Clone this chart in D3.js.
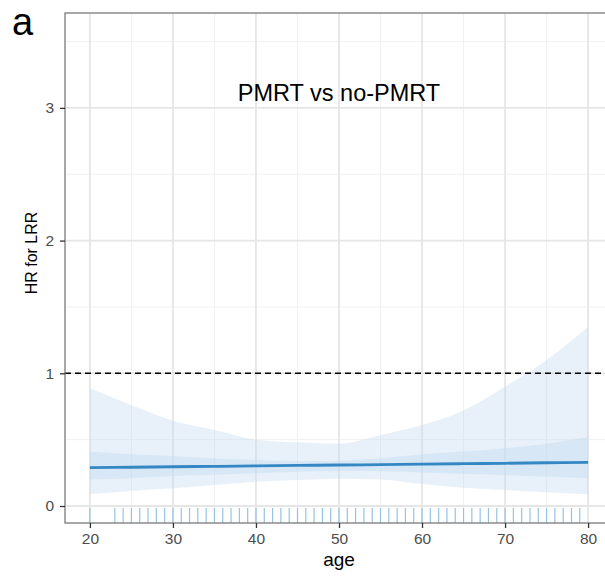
<!DOCTYPE html>
<html>
<head>
<meta charset="utf-8">
<script src="https://cdn.jsdelivr.net/npm/d3@7"></script>
<style>
  body { margin: 0; background: #fff; }
  svg { display: block; font-family: "Liberation Sans", Arial, sans-serif; }
</style>
</head>
<body>
<svg id="chart" width="605" height="579"></svg>
<script>
// values
const AGES = [20, 25, 30, 35, 40, 45, 50, 55, 60, 65, 70, 75, 80]
const HR = [0.289, 0.292, 0.296, 0.299, 0.302, 0.306, 0.309, 0.312, 0.316, 0.319, 0.322, 0.326, 0.329]
const INNER_LO = [0.20, 0.21, 0.226, 0.236, 0.246, 0.258, 0.264, 0.262, 0.252, 0.242, 0.233, 0.221, 0.21]
const INNER_HI = [0.41, 0.39, 0.377, 0.36, 0.347, 0.34, 0.342, 0.36, 0.39, 0.41, 0.435, 0.47, 0.52]
const OUTER_LO = [0.09, 0.113, 0.133, 0.158, 0.183, 0.196, 0.206, 0.2, 0.165, 0.138, 0.12, 0.103, 0.088]
const OUTER_HI = [0.887, 0.76, 0.643, 0.573, 0.5, 0.48, 0.47, 0.535, 0.61, 0.72, 0.9, 1.1, 1.35]
const RUG_AGES = [20, 23, 24, 25, 26, 27, 28, 29, 30, 31, 32, 33, 34, 35, 36, 37, 38, 39, 40,
  41, 42, 43, 44, 45, 46, 47, 48, 49, 50, 51, 52, 53, 54, 55, 56, 57, 58, 59, 60,
  61, 62, 63, 64, 65, 66, 67, 68, 69, 70, 71, 72, 73, 74, 75, 76, 77, 78, 79]
const X_TICKS = [20, 30, 40, 50, 60, 70, 80]
const X_MINOR = [25, 35, 45, 55, 65, 75]
const Y_TICKS = [0, 1, 2, 3]
const Y_MINOR = [0.5, 1.5, 2.5, 3.5]
const TITLE = 'PMRT vs no-PMRT'

const panel = { left: 65, top: 13, right: 613, bottom: 523 }
const svg = d3.select('#chart')

const x = d3.scaleLinear().domain([17, 83]).range([panel.left, panel.right])
const y = d3.scaleLinear().domain([-0.128, 3.715]).range([panel.bottom, panel.top])

const rows = AGES.map((a, i) => ({
  age: a, hr: HR[i], ilo: INNER_LO[i], ihi: INNER_HI[i], olo: OUTER_LO[i], ohi: OUTER_HI[i]
}))

svg.append('clipPath').attr('id', 'clip')
  .append('rect')
  .attr('x', panel.left).attr('y', panel.top)
  .attr('width', panel.right - panel.left).attr('height', panel.bottom - panel.top)

const g = svg.append('g').attr('clip-path', 'url(#clip)')

// grid
g.selectAll('.xminor').data(X_MINOR).enter().append('line')
  .attr('x1', d => x(d)).attr('x2', d => x(d))
  .attr('y1', panel.top).attr('y2', panel.bottom)
  .attr('stroke', '#f0f0f0').attr('stroke-width', 1)
g.selectAll('.yminor').data(Y_MINOR).enter().append('line')
  .attr('y1', d => y(d)).attr('y2', d => y(d))
  .attr('x1', panel.left).attr('x2', panel.right)
  .attr('stroke', '#f0f0f0').attr('stroke-width', 1)
g.selectAll('.xmajor').data(X_TICKS).enter().append('line')
  .attr('x1', d => x(d)).attr('x2', d => x(d))
  .attr('y1', panel.top).attr('y2', panel.bottom)
  .attr('stroke', '#e6e6e6').attr('stroke-width', 1.8)
g.selectAll('.ymajor').data(Y_TICKS).enter().append('line')
  .attr('y1', d => y(d)).attr('y2', d => y(d))
  .attr('x1', panel.left).attr('x2', panel.right)
  .attr('stroke', '#e6e6e6').attr('stroke-width', 1.8)

// bands
const curve = d3.curveMonotoneX
g.append('path').datum(rows)
  .attr('fill', '#c6dbef').attr('fill-opacity', 0.4)
  .attr('d', d3.area().curve(curve).x(d => x(d.age)).y0(d => y(d.olo)).y1(d => y(d.ohi)))
g.append('path').datum(rows)
  .attr('fill', '#c6dbef').attr('fill-opacity', 0.45)
  .attr('d', d3.area().curve(curve).x(d => x(d.age)).y0(d => y(d.ilo)).y1(d => y(d.ihi)))

// reference line at HR = 1
g.append('line')
  .attr('x1', panel.left).attr('x2', panel.right)
  .attr('y1', y(1)).attr('y2', y(1))
  .attr('stroke', '#000').attr('stroke-width', 1.4)
  .attr('stroke-dasharray', '6,4')

// estimate
g.append('path').datum(rows)
  .attr('fill', 'none').attr('stroke', '#3388c4').attr('stroke-width', 2.8)
  .attr('d', d3.line().curve(curve).x(d => x(d.age)).y(d => y(d.hr)))

// rug
g.selectAll('.rug').data(RUG_AGES).enter().append('line')
  .attr('x1', d => x(d)).attr('x2', d => x(d))
  .attr('y1', panel.bottom).attr('y2', panel.bottom - 15)
  .attr('stroke', '#96c3e2').attr('stroke-width', 1.2)

// title inside panel
svg.append('text')
  .attr('x', x(50)).attr('y', 101)
  .attr('text-anchor', 'middle')
  .attr('font-size', 23.5).attr('fill', '#000')
  .text(TITLE)

// panel border
svg.append('rect')
  .attr('x', panel.left).attr('y', panel.top)
  .attr('width', panel.right - panel.left).attr('height', panel.bottom - panel.top)
  .attr('fill', 'none').attr('stroke', '#7a7a7a').attr('stroke-width', 1.3)

// axes
const xAxis = svg.append('g')
  .attr('transform', `translate(0,${panel.bottom})`)
  .call(d3.axisBottom(x).tickValues(X_TICKS).tickFormat(d3.format('d')).tickSize(5).tickPadding(5))
const yAxis = svg.append('g')
  .attr('transform', `translate(${panel.left},0)`)
  .call(d3.axisLeft(y).tickValues(Y_TICKS).tickFormat(d3.format('d')).tickSize(5).tickPadding(6))

for (const ax of [xAxis, yAxis]) {
  ax.select('.domain').remove()
  ax.selectAll('.tick line').attr('stroke', '#333').attr('stroke-width', 1.3)
  ax.selectAll('.tick text')
    .attr('fill', '#4d4d4d').attr('font-size', 15.5)
    .attr('font-family', '"Liberation Sans", Arial, sans-serif')
}

// axis titles
svg.append('text')
  .attr('x', x(50)).attr('y', 566)
  .attr('text-anchor', 'middle')
  .attr('font-size', 19).attr('fill', '#000')
  .text('age')
svg.append('text')
  .attr('transform', 'translate(36.5,253) rotate(-90)')
  .attr('text-anchor', 'middle')
  .attr('font-size', 16).attr('fill', '#000')
  .text('HR for LRR')

// panel tag
svg.append('text')
  .attr('x', 12).attr('y', 34.5)
  .attr('font-size', 38).attr('fill', '#000')
  .text('a')
</script>
</body>
</html>
